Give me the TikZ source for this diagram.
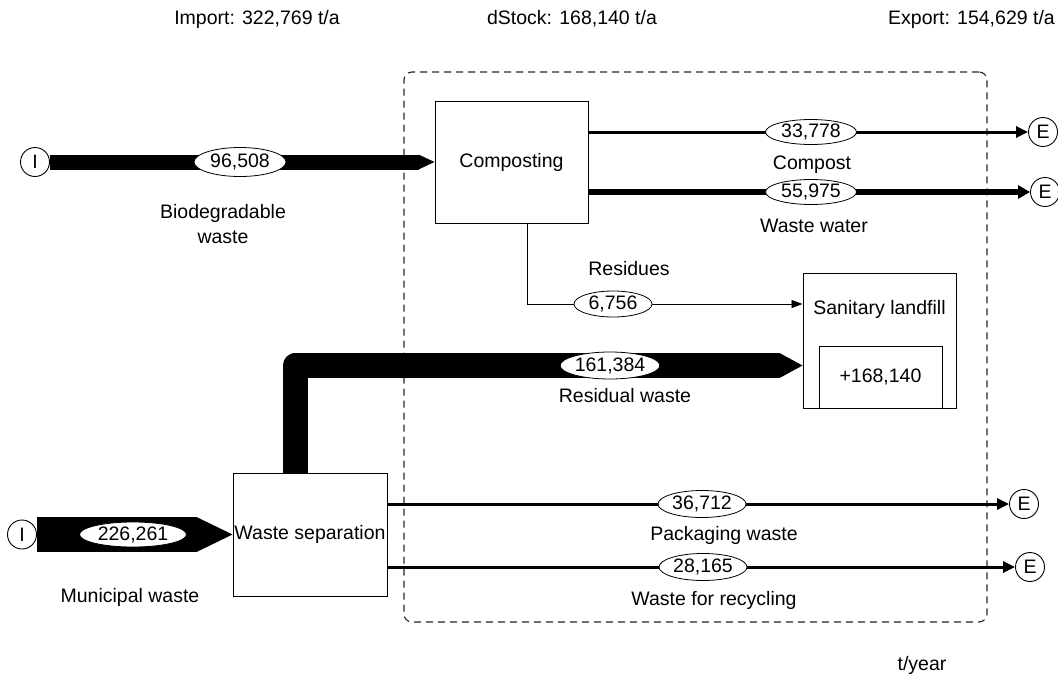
\documentclass[tikz,border=0pt]{standalone}
\usepackage{fontspec}
\setmainfont{Liberation Sans}
\usetikzlibrary{shapes.geometric,arrows.meta,calc}
\begin{document}
\begin{tikzpicture}[x=1pt,y=-1pt,
  font=\fontsize{19.5}{25}\selectfont,
  procbox/.style={draw, line width=1pt, inner sep=0pt, align=center},
  valell/.style={ellipse, draw, fill=white, line width=0.8pt, inner sep=0pt},
  endc/.style={circle, draw, fill=white, line width=0.9pt, minimum size=29pt, inner sep=0pt},
  lbl/.style={inner sep=0pt, align=center},
  flowline/.style={line width=#1, -{Triangle[length=12pt,width=11pt]}},
  sysbound/.style={draw=black!85, dashed, dash pattern=on 7pt off 5pt, line width=1.1pt, rounded corners=8pt}
]
\useasboundingbox (0,0) rectangle (1058,678);

% top labels
\node[lbl] (imp) at (257,19) {Import: 322,769 t/a};
\node[lbl] (dst) at (572,19) {dStock: 168,140 t/a};
\node[lbl, anchor=east] (exp) at (1055,19) {Export: 154,629 t/a};

% system boundary
\node[sysbound, minimum width=583pt, minimum height=550pt, inner sep=0pt] (sys) at (695.5,347) {};

% processes
\node[procbox, minimum width=153pt, minimum height=122pt] (comp) at (511.5,162) {Composting};
\node[procbox, minimum width=154pt, minimum height=123pt] (sep) at (310,534.5) {Waste separation};
\node[procbox, minimum width=153pt, minimum height=135pt] (land) at (879.5,340.5) {};
\node[lbl] (landT) at (879.5,309) {Sanitary landfill};
\node[procbox, minimum width=123pt, minimum height=62pt] (stock) at (880.5,377) {+168,140};

% import / export circles
\node[endc] (iA) at (35,162) {I};
\node[endc] (iB) at (22,534.5) {I};
\node[endc] (e1) at (1043,132) {E};
\node[endc] (e2) at (1045,192) {E};
\node[endc] (e3) at (1024,504) {E};
\node[endc] (e4) at (1030,567) {E};

% Biodegradable waste
\draw[line width=15pt] (iA.east) -- ([xshift=-16pt]comp.west);
\fill (comp.west) -- ++(-16,-7.5) -- ++(0,15) -- cycle;

% Municipal waste
\draw[line width=35pt] (iB.east) -- ([xshift=-36pt]sep.west);
\fill (sep.west) -- ++(-36,-17.5) -- ++(0,35) -- cycle;

% Residual waste
\coordinate (rwTip) at ([yshift=-25pt]land.west);
\draw[line width=25pt, line join=round] ([xshift=-15pt]sep.north) |- ([xshift=-23pt]rwTip);
\fill (rwTip) -- ++(-23,-12.5) -- ++(0,25) -- cycle;

% Residues
\draw[line width=0.9pt, -{Triangle[length=11pt,width=8pt]}] ([xshift=15.5pt]comp.south) |- ([yshift=36.5pt]land.west);

% outputs
\draw[flowline=3pt] (e1 -| comp.east) -- (e1.west);
\draw[line width=6pt, -{Triangle[length=12pt,width=13pt]}] (e2 -| comp.east) -- (e2.west);
\draw[flowline=3pt] (e3 -| sep.east) -- (e3.west);
\draw[flowline=3pt] (e4 -| sep.east) -- (e4.west);

% values
\node[valell, minimum width=92pt, minimum height=29pt] (v1) at (240,162) {96,508};
\node[valell, minimum width=107pt, minimum height=25pt] (v2) at (133,534.5) {226,261};
\node[valell, minimum width=91pt, minimum height=25pt] (v3) at (811,132) {33,778};
\node[valell, minimum width=91pt, minimum height=25pt] (v4) at (811,192) {55,975};
\node[valell, minimum width=78pt, minimum height=26pt] (v5) at (613,304) {6,756};
\node[valell, minimum width=90pt, minimum height=27pt] (v6) at (610,365.5) {161,384};
\node[valell, minimum width=88pt, minimum height=27pt] (v7) at (702,504) {36,712};
\node[valell, minimum width=88pt, minimum height=27pt] (v8) at (703,567) {28,165};

% flow labels
\node[lbl] (l1) at (223,224.5) {Biodegradable\\waste};
\node[lbl] (l2) at (130,597) {Municipal waste};
\node[lbl] (l3) at (812,165) {Compost};
\node[lbl] (l4) at (814,226) {Waste water};
\node[lbl] (l5) at (629,269) {Residues};
\node[lbl] (l6) at (625,396) {Residual waste};
\node[lbl] (l7) at (724,535) {Packaging waste};
\node[lbl] (l8) at (714,600) {Waste for recycling};
\node[lbl] (l9) at (922,665) {t/year};
\end{tikzpicture}
\end{document}
